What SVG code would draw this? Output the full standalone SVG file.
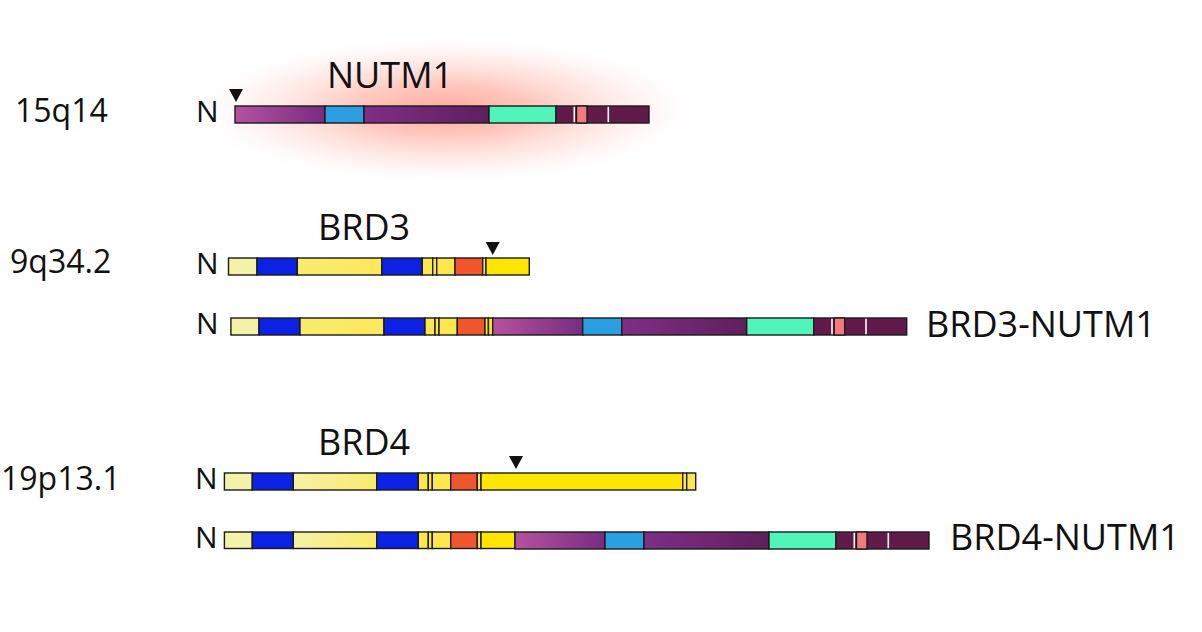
<svg xmlns="http://www.w3.org/2000/svg" xmlns:xlink="http://www.w3.org/1999/xlink" width="1202" height="632" viewBox="0 0 1202 632">
<style>
text{font-family:"Open Sans","Noto Sans","Liberation Sans",sans-serif;fill:#111;}
.loc{font-size:32px;}
.n{font-size:30px;}
.gene{font-size:36px;}
.seg rect{stroke:#1a1a1a;stroke-width:1.4;}
.wl{stroke:#fff;stroke-width:1.6;}
.pale{fill:#f4f1a8;}
.blue{fill:#0b22e4;}
.yel{fill:#fce84e;}
.byel{fill:#ffe600;}
.org{fill:#f0552b;}
.tri{fill:#111;}
</style>
<defs>
<radialGradient id="glow" cx="0.5" cy="0.5" r="0.5">
<stop offset="0" stop-color="#ff9282" stop-opacity="0.8"/>
<stop offset="0.35" stop-color="#ffa596" stop-opacity="0.6"/>
<stop offset="0.7" stop-color="#ffc9c0" stop-opacity="0.3"/>
<stop offset="1" stop-color="#ffffff" stop-opacity="0"/>
</radialGradient>
<linearGradient id="gP1" x1="0" x2="1" y1="0" y2="0">
<stop offset="0" stop-color="#b5529f"/>
<stop offset="1" stop-color="#782c80"/>
</linearGradient>
<linearGradient id="gP2" x1="0" x2="1" y1="0" y2="0">
<stop offset="0" stop-color="#7e2f86"/>
<stop offset="1" stop-color="#5f1f5d"/>
</linearGradient>
<linearGradient id="gY3" x1="0" x2="1" y1="0" y2="0">
<stop offset="0" stop-color="#f9ec6e"/>
<stop offset="1" stop-color="#fde85a"/>
</linearGradient>
<linearGradient id="gY4" x1="0" x2="1" y1="0" y2="0">
<stop offset="0" stop-color="#f6f1a6"/>
<stop offset="1" stop-color="#fbea6c"/>
</linearGradient>
<g id="nut" class="seg">
<rect x="0" y="0" width="90" height="17" fill="url(#gP1)"/>
<rect x="90" y="0" width="39" height="17" fill="#2b9fe0"/>
<rect x="129" y="0" width="125" height="17" fill="url(#gP2)"/>
<rect x="254" y="0" width="67" height="17" fill="#4ff5b9"/>
<rect x="321" y="0" width="93" height="17" fill="#611b4b"/>
<rect x="341.5" y="0" width="10.5" height="17" fill="#f27a7d"/>
<line class="wl" x1="339.3" x2="339.3" y1="0.8" y2="16.2"/>
<line class="wl" x1="373.3" x2="373.3" y1="0.8" y2="16.2"/>
</g>
<path id="tri" d="M-7,0 L7,0 L0,13 Z"/>
</defs>
<rect width="1202" height="632" fill="#fff"/>

<g id="nutm1-glow">
<ellipse cx="445" cy="110" rx="262" ry="76" fill="url(#glow)"/>
</g>

<g id="labels-loci">
<text class="loc" x="15" y="122">15q14</text>
<text class="loc" x="10" y="273">9q34.2</text>
<text class="loc" x="1" y="490">19p13.1</text>
</g>

<g id="nutm1">
<text class="gene" x="327" y="88">NUTM1</text>
<text class="n" x="196" y="122">N</text>
<use xlink:href="#tri" x="236" y="89" class="tri"/>
<use xlink:href="#nut" x="235" y="106"/>
</g>

<g id="brd3">
<text class="gene" x="318" y="240">BRD3</text>
<text class="n" x="196" y="274">N</text>
<use xlink:href="#tri" x="492.7" y="242" class="tri"/>
<g class="seg">
<rect class="pale" x="228.5" y="258" width="28.5" height="17"/>
<rect class="blue" x="257" y="258" width="40.3" height="17"/>
<rect x="297.3" y="258" width="84.4" height="17" fill="url(#gY3)"/>
<rect class="blue" x="381.7" y="258" width="40.6" height="17"/>
<rect class="yel" x="422.3" y="258" width="10.4" height="17"/>
<rect class="yel" x="432.7" y="258" width="4" height="17"/>
<rect class="yel" x="436.7" y="258" width="18.3" height="17"/>
<rect class="org" x="455" y="258" width="27.7" height="17"/>
<rect class="yel" x="482.7" y="258" width="3.3" height="17"/>
<rect class="byel" x="486" y="258" width="43.3" height="17"/>
</g>
</g>

<g id="brd3-nutm1">
<text class="n" x="196" y="334">N</text>
<g class="seg">
<rect class="pale" x="230.9" y="318" width="28.1" height="17"/>
<rect class="blue" x="259" y="318" width="41" height="17"/>
<rect x="300" y="318" width="84" height="17" fill="url(#gY3)"/>
<rect class="blue" x="384" y="318" width="41" height="17"/>
<rect class="yel" x="425" y="318" width="10" height="17"/>
<rect class="yel" x="435" y="318" width="4" height="17"/>
<rect class="yel" x="439" y="318" width="18.3" height="17"/>
<rect class="org" x="457.3" y="318" width="27.7" height="17"/>
<rect class="yel" x="485" y="318" width="3.4" height="17"/>
<rect class="byel" x="488.4" y="318" width="4.3" height="17"/>
</g>
<use xlink:href="#nut" x="492.7" y="318"/>
<text class="gene" x="926" y="337">BRD3-NUTM1</text>
</g>

<g id="brd4">
<text class="gene" x="318" y="455">BRD4</text>
<text class="n" x="195" y="489">N</text>
<use xlink:href="#tri" x="516" y="456" class="tri"/>
<g class="seg">
<rect class="pale" x="224.4" y="473" width="27.9" height="17"/>
<rect class="blue" x="252.3" y="473" width="41" height="17"/>
<rect x="293.3" y="473" width="83.4" height="17" fill="url(#gY4)"/>
<rect class="blue" x="376.7" y="473" width="41.6" height="17"/>
<rect class="yel" x="418.3" y="473" width="10" height="17"/>
<rect class="yel" x="428.3" y="473" width="4" height="17"/>
<rect class="yel" x="432.3" y="473" width="18.4" height="17"/>
<rect class="org" x="450.7" y="473" width="26.6" height="17"/>
<rect class="yel" x="477.3" y="473" width="3.7" height="17"/>
<rect class="byel" x="481" y="473" width="201.7" height="17"/>
<rect class="yel" x="682.7" y="473" width="4" height="17"/>
<rect class="yel" x="686.7" y="473" width="9" height="17"/>
</g>
</g>

<g id="brd4-nutm1">
<text class="n" x="195" y="548">N</text>
<g class="seg">
<rect class="pale" x="224.4" y="532" width="27.9" height="16.5"/>
<rect class="blue" x="252.3" y="532" width="41" height="16.5"/>
<rect x="293.3" y="532" width="83.4" height="16.5" fill="url(#gY4)"/>
<rect class="blue" x="376.7" y="532" width="41.6" height="16.5"/>
<rect class="yel" x="418.3" y="532" width="10" height="16.5"/>
<rect class="yel" x="428.3" y="532" width="4" height="16.5"/>
<rect class="yel" x="432.3" y="532" width="18.4" height="16.5"/>
<rect class="org" x="450.7" y="532" width="26.6" height="16.5"/>
<rect class="yel" x="477.3" y="532" width="3.7" height="16.5"/>
<rect class="byel" x="481" y="532" width="34" height="16.5"/>
</g>
<use xlink:href="#nut" x="515" y="532"/>
<text class="gene" x="950" y="550">BRD4-NUTM1</text>
</g>
</svg>
